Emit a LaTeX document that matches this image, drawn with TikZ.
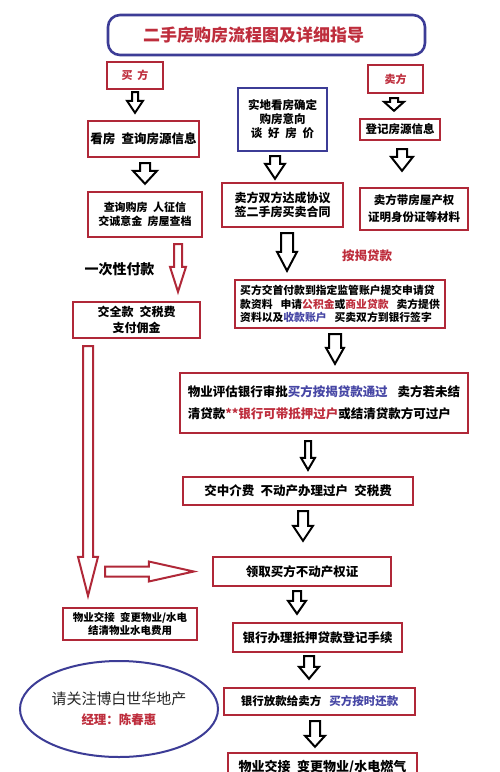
\documentclass[tikz,border=0pt]{standalone}
\usepackage{fontspec}
\setmainfont{Noto Sans CJK SC}
\usetikzlibrary{shapes.geometric,calc}
\definecolor{RedLine}{RGB}{176,40,56}
\definecolor{RedText}{RGB}{190,45,60}
\definecolor{BlueLine}{RGB}{60,60,150}
\definecolor{BlueText}{RGB}{70,70,165}
\newcommand\fz[2]{\fontsize{#1}{#2}\selectfont}
\newcommand\gp{\hspace{0.5em}}
% vertical block arrow: style, source node, target node, x, gap top, gap bottom, shaft half, head half, head length
\newcommand\varr[9]{%
\path[#1] let \p1=(#2.south), \p2=(#3.north) in
 ({#4pt-#7pt},{\y1-#5pt}) -- ({#4pt+#7pt},{\y1-#5pt}) -- ({#4pt+#7pt},{\y2+#6pt+#9pt})
 -- ({#4pt+#8pt},{\y2+#6pt+#9pt}) -- ({#4pt},{\y2+#6pt}) -- ({#4pt-#8pt},{\y2+#6pt+#9pt})
 -- ({#4pt-#7pt},{\y2+#6pt+#9pt}) -- cycle;}
\tikzset{
 rbox/.style={draw=RedLine, line width=2.4pt, fill=white, inner sep=0pt, align=center},
 bbox/.style={draw=BlueLine, line width=2.2pt, fill=white, inner sep=0pt, align=center},
 titlebox/.style={draw=BlueLine, line width=2.6pt, rounded corners=12pt, fill=white, inner sep=0pt},
 blkarrow/.style={draw=black, line width=2pt, fill=white, line join=miter},
 redarrow/.style={draw=RedLine, line width=2pt, fill=white, line join=miter},
}
\begin{document}
\begin{tikzpicture}[x=1pt,y=-1pt]
\useasboundingbox (0,0) rectangle (500,772);
\clip (0,0) rectangle (500,772);
\fill[white] (0,0) rectangle (500,772);

% title
\node[titlebox, minimum width=317pt, minimum height=40pt, font=\bfseries\fz{17}{20}, text=RedText] (title) at (266.5,35) {二手房购房流程图及详细指导\hspace*{26pt}};

% left column (buyer)
\node[rbox, minimum width=56pt, minimum height=27pt, font=\bfseries\fz{11}{13}, text=RedText] (buyer) at (135,75.5) {买\hspace{5pt}方};
\node[rbox, minimum width=111pt, minimum height=36pt, font=\bfseries\fz{12.5}{15}] (look) at (143.5,139) {看房\gp 查询房源信息};
\node[rbox, minimum width=114pt, minimum height=45pt, font=\bfseries\fz{11}{14}] (check) at (145,214.5) {查询购房\gp 人征信\\交诚意金\gp 房屋查档};
\node[font=\bfseries\fz{14}{16}, inner sep=0pt] (onepay) at (119.5,269) {一次性付款};
\node[rbox, minimum width=127pt, minimum height=36pt, font=\bfseries\fz{12}{16}] (full) at (136.5,320) {交全款\gp 交税费\\支付佣金};
\node[rbox, minimum width=134pt, minimum height=32pt, font=\bfseries\fz{10.5}{13}] (lefthand) at (130,624) {物业交接\gp 变更物业/水电\\结清物业水电费用};
\node[ellipse, draw=BlueLine, line width=2pt, minimum width=198pt, minimum height=96pt, inner sep=0pt, align=center, text=black!85] (ad) at (119,709)
 {\fz{15}{18}请关注博白世华地产\\[7pt]\fz{12.5}{15}\bfseries\color{RedText}经理：陈春惠};

% middle column
\node[bbox, minimum width=89pt, minimum height=63pt, font=\bfseries\fz{11.5}{14}] (view) at (282.5,119.5) {实地看房确定\\购房意向\\谈\gp 好\gp 房\gp 价};
\node[rbox, minimum width=121pt, minimum height=44pt, font=\bfseries\fz{12}{14}] (agree) at (282.5,205) {卖方双方达成协议\\签二手房买卖合同};
\node[font=\bfseries\fz{12.5}{15}, text=RedText, inner sep=0pt] (mort) at (367,256) {按揭贷款};
\node[rbox, minimum width=210pt, minimum height=48pt, font=\bfseries\fz{10.8}{13.5}, align=left] (loan) at (340,304)
 {买方交首付款到指定监管账户提交申请贷\\款资料\hspace{8pt}申请\textcolor{RedText}{公积金}或\textcolor{RedText}{商业贷款}\hspace{8pt}卖方提供\\资料以及\textcolor{BlueText}{收款账户}\hspace{8pt}买卖双方到银行签字};
\node[rbox, minimum width=288pt, minimum height=60pt, font=\bfseries\fz{12.5}{22}, align=left] (eval) at (324,403)
 {物业评估银行审批\textcolor{BlueText}{买方按揭贷款通过}\hspace{10pt}卖方若未结\\清贷款\textcolor{RedText}{**银行可带抵押过户}或结清贷款方可过户};
\node[rbox, minimum width=230pt, minimum height=28pt, font=\bfseries\fz{12.5}{15}] (fee) at (298,491) {交中介费\gp 不动产办理过户\gp 交税费};
\node[rbox, minimum width=178pt, minimum height=29pt, font=\bfseries\fz{12.5}{15}] (cert) at (302,571.5) {领取买方不动产权证};
\node[rbox, minimum width=169pt, minimum height=29pt, font=\bfseries\fz{12.5}{15}] (bankreg) at (317.5,637.5) {银行办理抵押贷款登记手续};
\node[rbox, minimum width=191pt, minimum height=27pt, font=\bfseries\fz{11.5}{14}] (lend) at (319.5,701.5) {银行放款给卖方\hspace{8pt}\textcolor{BlueText}{买方按时还款}};
\node[rbox, minimum width=189pt, minimum height=28pt, font=\bfseries\fz{13}{15}] (hand) at (322.5,767) {物业交接\gp 变更物业/水电燃气};

% right column (seller)
\node[rbox, minimum width=55pt, minimum height=28pt, font=\bfseries\fz{11}{13}, text=RedText] (seller) at (395.5,79) {卖方};
\node[rbox, minimum width=80pt, minimum height=21pt, font=\bfseries\fz{11.5}{14}] (reg) at (400,129.5) {登记房源信息};
\node[rbox, minimum width=108pt, minimum height=42pt, font=\bfseries\fz{11.5}{17}] (docs) at (414,209) {卖方带房屋产权\\证明身份证等材料};

% black block arrows
\varr{blkarrow}{buyer}{look}{135}{2}{7}{3}{8}{12}
\varr{blkarrow}{look}{check}{145}{5}{7}{5}{12}{13}
\varr{blkarrow}{view}{agree}{275}{4}{3}{5}{10}{15}
\varr{blkarrow}{agree}{loan}{287}{5}{8}{6}{10}{19}
\varr{blkarrow}{loan}{eval}{335}{5}{8}{6}{9}{16}
\varr{blkarrow}{eval}{fee}{308}{7}{6}{3}{7}{12}
\varr{blkarrow}{fee}{cert}{303}{5}{15}{5}{10}{15}
\varr{blkarrow}{cert}{bankreg}{297}{4}{8}{4}{9}{13}
\varr{blkarrow}{bankreg}{lend}{309}{3}{8}{5}{10}{12}
\varr{blkarrow}{lend}{hand}{315}{5}{5}{5}{10}{11}
\varr{blkarrow}{seller}{reg}{394}{4}{7}{4}{10}{9}
\varr{blkarrow}{reg}{docs}{402}{8}{16}{5}{11}{14}

% red block arrows
\varr{redarrow}{check}{full}{178}{6}{9}{4}{8}{25}
\varr{redarrow}{full}{lefthand}{88}{7}{11}{5}{10}{39}
\path[redarrow] let \p2=(cert.west) in
 ({105pt},{\y2+5pt}) -- ({\x2-63pt},{\y2+5pt}) -- ({\x2-63pt},{\y2+10pt}) -- ({\x2-18pt},{\y2})
 -- ({\x2-63pt},{\y2-10pt}) -- ({\x2-63pt},{\y2-5pt}) -- ({105pt},{\y2-5pt}) -- cycle;
\end{tikzpicture}
\end{document}
